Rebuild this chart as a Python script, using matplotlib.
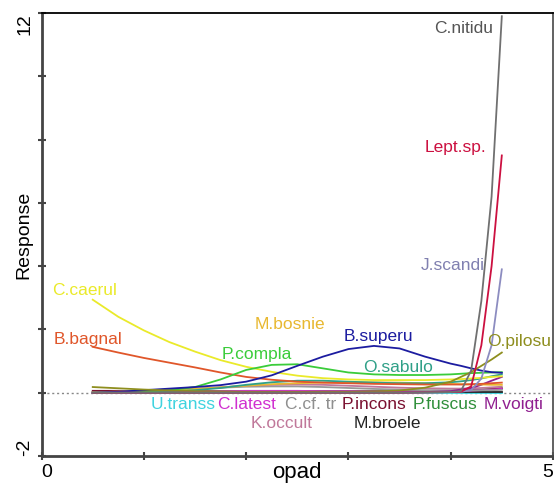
import matplotlib
matplotlib.use("Agg")
import matplotlib.pyplot as plt

plt.rcParams['font.family'] = ['Liberation Sans', 'DejaVu Sans']

# gradient values (opad) at which the fitted responses were read
opad = [0.5, 0.75, 1.0, 1.25, 1.5, 1.75, 2.0, 2.25, 2.5, 2.75,
        3.0, 3.25, 3.5, 3.75, 4.0, 4.1, 4.2, 4.3, 4.4, 4.5]

# fitted response of each species along opad
c_nitidu = [0.0, 0.0, 0.0, 0.0, 0.0, 0.0, 0.0, 0.0, 0.0, 0.0,
            0.0, 0.0, 0.0, 0.01, 0.02, 0.05, 0.7, 2.9, 6.2, 11.9]
lept_sp = [0.0, 0.0, 0.0, 0.0, 0.0, 0.0, 0.0, 0.0, 0.0, 0.0,
           0.0, 0.0, 0.0, 0.01, 0.02, 0.03, 0.2, 1.5, 4.0, 7.5]
j_scandi = [0.0, 0.0, 0.0, 0.0, 0.0, 0.0, 0.0, 0.0, 0.0, 0.0,
            0.0, 0.0, 0.0, 0.01, 0.02, 0.03, 0.08, 0.45, 1.5, 3.9]
c_caerul = [2.94, 2.4, 1.97, 1.6, 1.3, 1.03, 0.82, 0.66, 0.54, 0.46,
            0.42, 0.4, 0.4, 0.4, 0.42, 0.43, 0.45, 0.47, 0.5, 0.52]
b_bagnal = [1.45, 1.27, 1.1, 0.95, 0.8, 0.64, 0.5, 0.41, 0.35, 0.32,
            0.3, 0.28, 0.27, 0.26, 0.26, 0.26, 0.27, 0.28, 0.3, 0.32]
m_bosnie = [0.02, 0.03, 0.05, 0.08, 0.12, 0.17, 0.22, 0.27, 0.3, 0.32,
            0.33, 0.33, 0.32, 0.3, 0.28, 0.27, 0.26, 0.26, 0.25, 0.25]
b_superu = [0.0, 0.03, 0.08, 0.13, 0.18, 0.24, 0.35, 0.55, 0.85, 1.14,
            1.38, 1.48, 1.4, 1.14, 0.92, 0.85, 0.77, 0.7, 0.65, 0.63]
p_compla = [0.0, 0.02, 0.04, 0.08, 0.18, 0.42, 0.72, 0.88, 0.9, 0.77,
            0.64, 0.58, 0.56, 0.56, 0.58, 0.6, 0.62, 0.63, 0.64, 0.65]
o_sabulo = [0.0, 0.01, 0.02, 0.04, 0.08, 0.15, 0.25, 0.33, 0.38, 0.38,
            0.35, 0.32, 0.3, 0.3, 0.33, 0.36, 0.4, 0.45, 0.52, 0.58]
o_pilosu = [0.18, 0.14, 0.1, 0.07, 0.05, 0.04, 0.03, 0.03, 0.03, 0.03,
            0.03, 0.04, 0.07, 0.16, 0.35, 0.5, 0.65, 0.85, 1.05, 1.27]
u_transs = [0.0, 0.0, 0.0, 0.0, 0.0, 0.0, 0.0, 0.0, 0.0, 0.0,
            0.0, 0.0, 0.0, 0.0, 0.0, 0.0, 0.0, 0.0, 0.0, 0.0]
c_latest = [0.01, 0.01, 0.02, 0.03, 0.04, 0.05, 0.06, 0.06, 0.06, 0.05,
            0.05, 0.04, 0.04, 0.04, 0.05, 0.06, 0.07, 0.08, 0.1, 0.12]
c_cf_tr = [0.02, 0.03, 0.05, 0.08, 0.12, 0.16, 0.19, 0.2, 0.2, 0.18,
           0.15, 0.12, 0.1, 0.08, 0.07, 0.07, 0.07, 0.08, 0.08, 0.09]
p_incons = [0.06, 0.06, 0.05, 0.05, 0.05, 0.04, 0.04, 0.04, 0.04, 0.04,
            0.04, 0.04, 0.04, 0.04, 0.05, 0.06, 0.07, 0.09, 0.11, 0.14]
p_fuscus = [0.03, 0.03, 0.04, 0.04, 0.05, 0.05, 0.05, 0.05, 0.05, 0.05,
            0.05, 0.05, 0.05, 0.06, 0.07, 0.08, 0.09, 0.1, 0.12, 0.14]
m_voigti = [0.0, 0.0, 0.0, 0.0, 0.0, 0.0, 0.0, 0.0, 0.0, 0.0,
            0.0, 0.0, 0.01, 0.02, 0.05, 0.1, 0.15, 0.25, 0.38, 0.5]
k_occult = [0.02, 0.03, 0.05, 0.08, 0.12, 0.17, 0.22, 0.25, 0.26, 0.25,
            0.22, 0.19, 0.16, 0.14, 0.13, 0.13, 0.14, 0.15, 0.17, 0.19]
m_broele = [0.03, 0.03, 0.03, 0.03, 0.03, 0.03, 0.03, 0.03, 0.03, 0.03,
            0.03, 0.03, 0.03, 0.03, 0.03, 0.03, 0.03, 0.03, 0.03, 0.03]

species = [
    ("U.transs", u_transs, "#3fd3df"),
    ("M.broele", m_broele, "#222222"),
    ("P.fuscus", p_fuscus, "#2f8f3a"),
    ("P.incons", p_incons, "#7a1030"),
    ("C.latest", c_latest, "#d030d0"),
    ("C.cf. tr", c_cf_tr, "#999999"),
    ("K.occult", k_occult, "#c0789a"),
    ("M.voigti", m_voigti, "#902090"),
    ("M.bosnie", m_bosnie, "#e8b830"),
    ("O.sabulo", o_sabulo, "#30a088"),
    ("B.bagnal", b_bagnal, "#e0562a"),
    ("C.caerul", c_caerul, "#eaea2a"),
    ("P.compla", p_compla, "#3acc3a"),
    ("B.superu", b_superu, "#1c1ca0"),
    ("O.pilosu", o_pilosu, "#8e8e1e"),
    ("J.scandi", j_scandi, "#8c8cc0"),
    ("Lept.sp.", lept_sp, "#cc1040"),
    ("C.nitidu", c_nitidu, "#707070"),
]

# where each species name is written (data coordinates)
label_xy = {
    "C.nitidu": (4.13, 11.5), "Lept.sp.": (4.05, 7.75), "J.scandi": (4.02, 4.02),
    "C.caerul": (0.42, 3.23), "B.bagnal": (0.45, 1.68), "M.bosnie": (2.43, 2.15),
    "B.superu": (3.29, 1.77), "P.compla": (2.10, 1.20), "O.sabulo": (3.49, 0.79),
    "O.pilosu": (4.67, 1.61), "U.transs": (1.38, -0.38), "C.latest": (2.00, -0.38),
    "C.cf. tr": (2.63, -0.38), "P.incons": (3.25, -0.38), "P.fuscus": (3.94, -0.38),
    "M.voigti": (4.61, -0.38), "K.occult": (2.35, -0.98), "M.broele": (3.38, -0.98),
}
label_color = {"C.nitidu": "#555555", "J.scandi": "#8080b0", "C.cf. tr": "#8f8f8f"}

fig = plt.figure(figsize=(5.54, 4.83), dpi=100)
ax = fig.add_axes([0.0751, 0.0559, 0.923, 0.917])

ax.axhline(0, color="#888888", lw=1, ls=(0, (1.5, 2)), zorder=1)

for name, resp, col in species:
    ax.plot(opad, resp, color=col, lw=1.3, zorder=2)
    lx, ly = label_xy[name]
    ax.text(lx, ly, name, color=label_color.get(name, col), fontsize=12.5,
            ha="center", va="center")

ax.set_xlim(0, 5)
ax.set_ylim(-2, 12)

ax.set_xticks([0, 1, 2, 3, 4, 5], labels=["0", "", "", "", "", "5"])
ax.set_yticks([-2, 0, 2, 4, 6, 8, 10, 12],
              labels=["-2", "", "", "", "", "", "", "12"])
ax.tick_params(direction="inout", length=6, width=1.5, color="#444444",
               labelsize=14, pad=3)
xl = ax.get_xticklabels()
xl[0].set_ha("left")
xl[-1].set_ha("right")
yl = ax.get_yticklabels()
for t in yl:
    t.set_rotation(90)
yl[0].set_va("bottom")
yl[-1].set_va("top")

ax.set_xlabel("opad", fontsize=16, va="center")
ax.xaxis.set_label_coords(0.5, -0.038)
ax.set_ylabel("Response", fontsize=14, va="center")
ax.yaxis.set_label_coords(-0.034, 0.5)

for side in ["left", "bottom"]:
    ax.spines[side].set_color("#444444")
    ax.spines[side].set_linewidth(2)
ax.spines["top"].set_color("black")
ax.spines["top"].set_linewidth(1.3)
ax.spines["right"].set_color("#555555")
ax.spines["right"].set_linewidth(1.3)

fig.savefig("out.png", dpi=100)
